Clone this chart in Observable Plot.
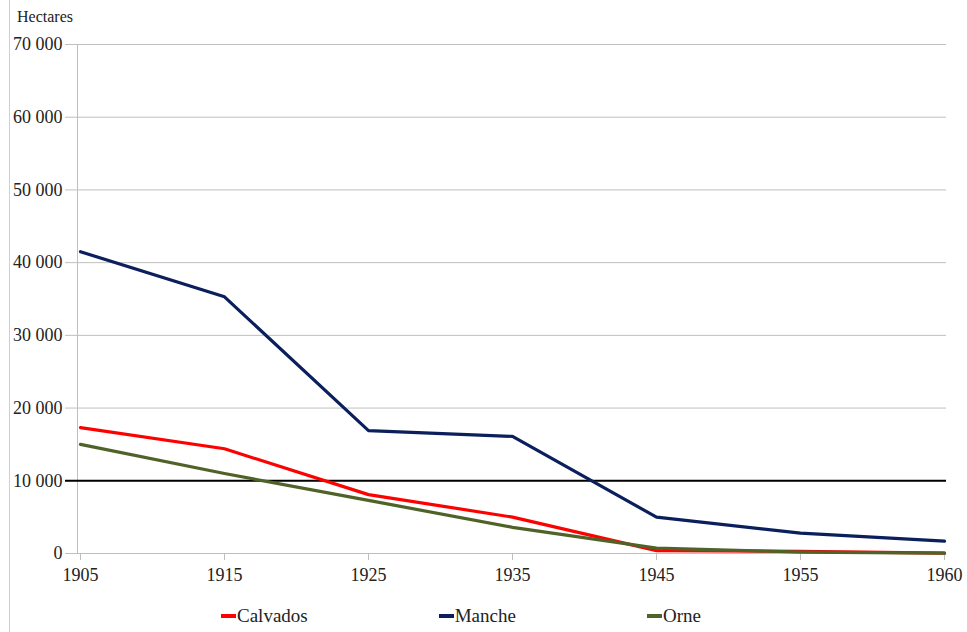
<!DOCTYPE html>
<html>
<head>
<meta charset="utf-8">
<script src="https://cdn.jsdelivr.net/npm/d3@7"></script>
<script src="https://cdn.jsdelivr.net/npm/@observablehq/plot@0.6"></script>
<style>
  html, body { margin: 0; padding: 0; background: #fff; }
  #wrap { position: relative; width: 967px; height: 632px; font-family: "Liberation Serif", "Times New Roman", Times, "DejaVu Serif", serif; overflow: hidden; }
  #border { position: absolute; left: 9px; top: 0; width: 1px; height: 632px; background: #d0d0d0; }
  #unit { position: absolute; left: 17px; top: 8px; font-size: 16px; color: #222; }
  #legend { position: absolute; left: 221px; top: 605px; display: flex; gap: 131px; font-size: 19px; color: #222; }
  .item { display: flex; align-items: center; }
  .sw { width: 15px; height: 4px; margin-right: 1px; }
  svg text { font-family: "Liberation Serif", "Times New Roman", Times, "DejaVu Serif", serif; }
</style>
</head>
<body>
<div id="wrap">
  <div id="border"></div>
  <div id="chart"></div>
  <div id="unit">Hectares</div>
  <div id="legend"></div>
</div>
<script>
const years = ["1905", "1915", "1925", "1935", "1945", "1955", "1960"];
const calvados = [17300, 14400, 8100, 5000, 400, 300, 50];
const manche = [41500, 35300, 16900, 16100, 5000, 2800, 1700];
const orne = [15000, 11000, 7300, 3600, 750, 200, 50];
const seriesNames = ["Calvados", "Manche", "Orne"];
const seriesColors = ["#ff0000", "#0a1f5c", "#4f6228"];
const yTicks = [0, 10000, 20000, 30000, 40000, 50000, 60000, 70000];
const threshold = 10000;

const rows = [];
[calvados, manche, orne].forEach((arr, i) => {
  arr.forEach((v, j) => rows.push({series: seriesNames[i], year: years[j], value: v}));
});

const fmt = d3.formatLocale({thousands: " ", grouping: [3], decimal: ","}).format(",");
const serif = "'Liberation Serif', 'Times New Roman', Times, 'DejaVu Serif', serif";

const chart = Plot.plot({
  width: 967,
  height: 600,
  marginLeft: 77,
  marginRight: 21,
  marginTop: 44,
  marginBottom: 47,
  style: {fontFamily: serif, fontSize: "18px", color: "#222", background: "transparent"},
  x: {type: "point", domain: years, padding: 0},
  y: {domain: [0, 70000]},
  color: {domain: seriesNames, range: seriesColors},
  marks: [
    Plot.ruleY(yTicks, {stroke: "#bfbfbf", strokeWidth: 1}),
    Plot.frame({anchor: "left", stroke: "#bfbfbf"}),
    Plot.axisY({ticks: yTicks, tickFormat: fmt, tickSize: 12, tickPadding: 3, stroke: "#bfbfbf", label: null, fontSize: 18}),
    Plot.axisX({tickSize: 7, tickPadding: 8, stroke: "#bfbfbf", label: null, fontSize: 18}),
    Plot.ruleY([threshold], {stroke: "#000", strokeWidth: 2, insetLeft: -12}),
    Plot.line(rows, {x: "year", y: "value", z: "series", stroke: "series", strokeWidth: 3.2})
  ]
});
document.getElementById("chart").appendChild(chart);

const legend = document.getElementById("legend");
seriesNames.forEach((n, i) => {
  const it = document.createElement("div");
  it.className = "item";
  const sw = document.createElement("span");
  sw.className = "sw";
  sw.style.background = seriesColors[i];
  const t = document.createElement("span");
  t.textContent = n;
  it.appendChild(sw); it.appendChild(t);
  legend.appendChild(it);
});
</script>
</body>
</html>
